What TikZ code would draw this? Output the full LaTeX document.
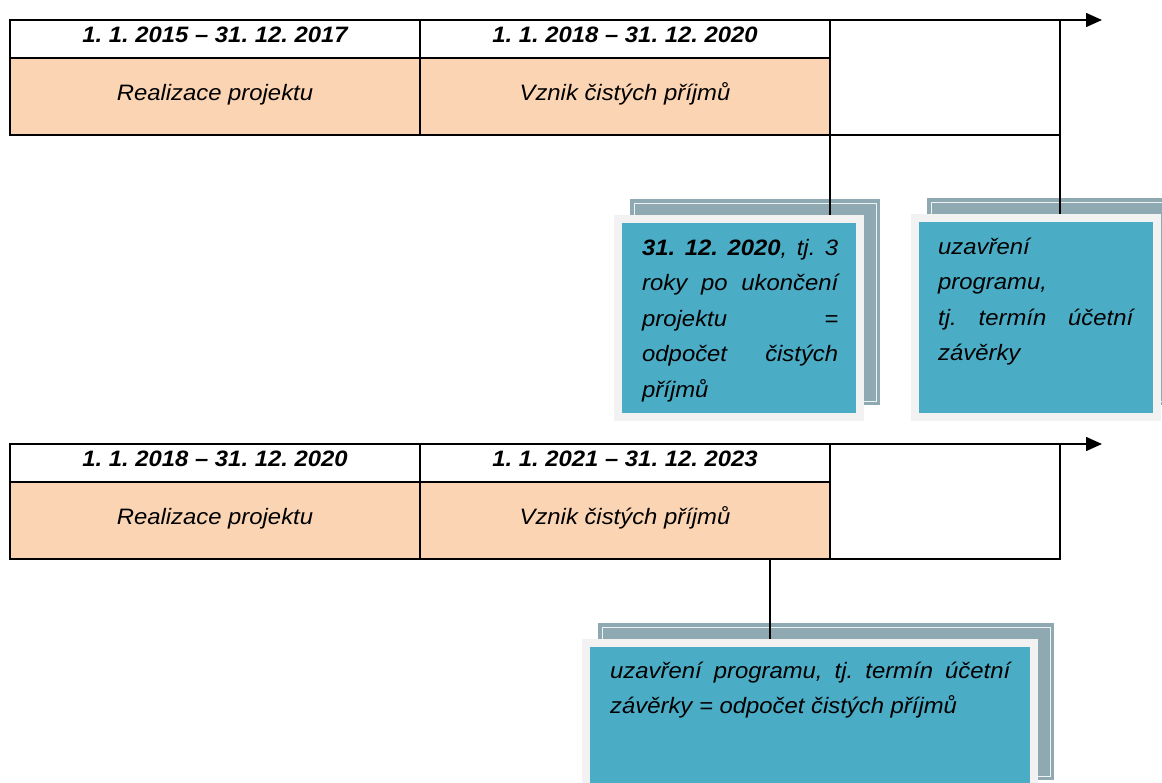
\documentclass[tikz,border=0pt]{standalone}
\usepackage{fontspec}
\setmainfont{Liberation Sans}[FakeStretch=1.07]
\usetikzlibrary{arrows.meta}
\definecolor{peach}{HTML}{FBD4B4}
\definecolor{tealbox}{HTML}{4BACC6}
\definecolor{backgray}{HTML}{8EA9B1}
\definecolor{rimgray}{HTML}{F2F2F2}
\begin{document}
\begin{tikzpicture}[x=1pt,y=-1pt,
  tcell/.style={draw=black, line width=1.5pt, inner sep=0pt, outer sep=0pt},
  head/.style={tcell, minimum width=410pt, minimum height=38pt},
  body/.style={tcell, fill=peach, minimum width=410pt, minimum height=77pt},
  tail/.style={tcell, minimum width=230pt, minimum height=115pt},
  celltext/.style={anchor=base, inner sep=0pt, font=\fontsize{22.3}{26}\selectfont\itshape\frenchspacing},
  datetext/.style={celltext, font=\fontsize{22.3}{26}\selectfont\bfseries\itshape\frenchspacing},
  backbox/.style={fill=backgray, draw=none, inner sep=0pt, outer sep=0pt},
  frontbox/.style={fill=tealbox, draw=rimgray, line width=8pt, inner sep=0pt, outer sep=0pt},
  boxtext/.style={anchor=north west, inner sep=0pt, align=left, font=\fontsize{22.3}{35.5}\selectfont\itshape\frenchspacing},
  link/.style={draw=black, line width=1.4pt},
  timearrow/.style={draw=black, line width=1.5pt, -{Triangle[length=16pt,width=14pt]}},
  rimline/.style={draw=white, line width=0.9pt, opacity=0.85}
]
\useasboundingbox (0,0) rectangle (1162,783);
\clip (0,0) rectangle (1162,783);

% ---------- table 1 ----------
\node[head] (h11) at (215,39) {};
\node[head] (h12) at (625,39) {};
\node[body] (b11) at (215,96.5) {};
\node[body] (b12) at (625,96.5) {};
\node[tail] (t1) at (945,77.5) {};
\node[datetext] (d11) at (215,42.7) {1. 1. 2015 – 31. 12. 2017};
\node[datetext] (d12) at (625,42.7) {1. 1. 2018 – 31. 12. 2020};
\node[celltext] (r11) at (215,100.7) {Realizace projektu};
\node[celltext] (r12) at (625,100.7) {Vznik čistých příjmů};
\coordinate (end1) at (1102,20);
\draw[timearrow] (t1.north east) -- (end1);

% ---------- table 2 ----------
\node[head] (h21) at (215,463) {};
\node[head] (h22) at (625,463) {};
\node[body] (b21) at (215,520.5) {};
\node[body] (b22) at (625,520.5) {};
\node[tail] (t2) at (945,501.5) {};
\node[datetext] (d21) at (215,466) {1. 1. 2018 – 31. 12. 2020};
\node[datetext] (d22) at (625,466) {1. 1. 2021 – 31. 12. 2023};
\node[celltext] (r21) at (215,524) {Realizace projektu};
\node[celltext] (r22) at (625,524) {Vznik čistých příjmů};
\coordinate (end2) at (1102,444);
\draw[timearrow] (t2.north east) -- (end2);

% ---------- back boxes ----------
\node[backbox, minimum width=250pt, minimum height=206pt] (k1) at (755,302) {};
\node[backbox, minimum width=250pt, minimum height=207pt] (k2) at (1052,301.5) {};
\node[backbox, minimum width=456pt, minimum height=157pt] (k3) at (826,701.5) {};
\draw[rimline] ([shift={(4,4)}]k1.north west) rectangle ([shift={(-4,-4)}]k1.south east);
\draw[rimline] ([shift={(4,4)}]k2.north west) rectangle ([shift={(-4,-4)}]k2.south east);
\draw[rimline] ([shift={(4,4)}]k3.north west) rectangle ([shift={(-4,-4)}]k3.south east);

% ---------- front boxes (positions) ----------
\coordinate (f1top) at (739,219);
\coordinate (f2top) at (1036,218);
\coordinate (f3top) at (810,643);

% ---------- connectors ----------
\coordinate (c3) at (770,559);
\draw[link] (t1.south west) -- (t1.south west |- f1top);
\draw[link] (t1.south east) -- (t1.south east |- f2top);
\draw[link] (c3) -- (c3 |- f3top);

% ---------- front boxes ----------
\node[frontbox, minimum width=242pt, minimum height=198pt] (f1) at (739,318) {};
\node[frontbox, minimum width=242pt, minimum height=199pt] (f2) at (1036,317.5) {};
\node[frontbox, minimum width=448pt, minimum height=149pt] (f3) at (810,717.5) {};

\node[boxtext] (x1) at (642,230.3) {%
  \hbox to 196pt{\strut\textbf{31. 12. 2020}, tj. 3}\\
  \hbox to 196pt{roky po ukončení}\\
  \hbox to 196pt{projektu =}\\
  \hbox to 196pt{odpočet čistých}\\
  příjmů};
\node[boxtext] (x2) at (938,229.3) {%
  \strut uzavření\\
  programu,\\
  \hbox to 195pt{tj. termín účetní}\\
  závěrky};
\node[boxtext] (x3) at (610,653.3) {%
  \hbox to 400pt{\strut uzavření programu, tj. termín účetní}\\
  závěrky = odpočet čistých příjmů};
\end{tikzpicture}
\end{document}
